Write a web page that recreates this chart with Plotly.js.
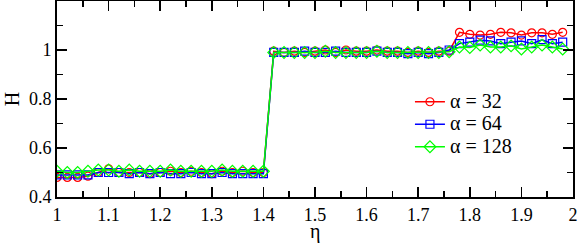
<!DOCTYPE html>
<html>
<head>
<meta charset="utf-8">
<script src="https://cdn.plot.ly/plotly-3.0.1.min.js"></script>
<style>html,body{margin:0;padding:0;background:#fff;}#chart{width:581px;height:245px;}</style>
</head>
<body>
<div id="chart"></div>
<script>
const eta = [1.00,1.02,1.04,1.06,1.08,1.10,1.12,1.14,1.16,1.18,1.20,1.22,1.24,1.26,1.28,1.30,1.32,1.34,1.36,1.38,1.40,
             1.42,1.44,1.46,1.48,1.50,1.52,1.54,1.56,1.58,1.60,1.62,1.64,1.66,1.68,1.70,1.72,1.74,1.76,
             1.78,1.80,1.82,1.84,1.86,1.88,1.90,1.92,1.94,1.96,1.98];
const H32 = [0.48,0.48,0.48,0.485,0.50,0.515,0.50,0.50,0.50,0.495,0.50,0.505,0.50,0.505,0.50,0.495,0.505,0.50,0.505,0.50,0.50,
             0.995,0.99,0.995,0.99,0.995,1.0,0.99,1.0,0.995,0.995,1.0,0.995,0.995,0.99,0.995,0.99,0.995,0.995,
             1.072,1.064,1.061,1.064,1.072,1.07,1.061,1.07,1.07,1.064,1.072];
const H64 = [0.49,0.49,0.49,0.49,0.50,0.50,0.50,0.495,0.50,0.495,0.50,0.495,0.495,0.50,0.495,0.495,0.50,0.495,0.495,0.495,0.495,
             0.99,0.99,0.99,0.995,0.99,0.99,0.995,0.99,0.99,0.99,0.995,0.99,0.99,0.985,0.99,0.985,0.99,1.0,
             1.026,1.032,1.04,1.037,1.026,1.032,1.037,1.026,1.042,1.026,1.032];
const H128 = [0.505,0.50,0.50,0.505,0.51,0.51,0.505,0.51,0.505,0.505,0.505,0.51,0.505,0.505,0.505,0.505,0.51,0.505,0.505,0.505,0.505,
              0.99,0.99,0.99,0.99,0.99,0.995,0.99,0.99,0.99,0.99,0.995,0.99,0.99,0.99,0.99,0.99,0.99,0.993,
              1.012,1.01,1.02,1.012,1.012,1.017,1.004,1.012,1.02,1.012,1.004];
const names = ['α = 32','α = 64','α = 128'];
const colors = ['#ff0000','#0000ff','#00ff00'];
const symbols = ['circle-open','square-open','diamond-open'];
const series = [H32, H64, H128];
const xTicks = [1,1.1,1.2,1.3,1.4,1.5,1.6,1.7,1.8,1.9,2];
const yTicks = [0.4,0.6,0.8,1];

const fam = 'Liberation Serif';
const traces = series.map((s,i)=>({
  x: eta, y: s, name: '<span style="font-size:20px">' + names[i] + '</span>', type:'scatter', mode:'lines+markers',
  line:{color:colors[i], width:1.5},
  marker:{symbol:symbols[i], size: i===2?9:8, color:colors[i], line:{width:1.2, color:colors[i]}}
}));

const tf = {family:fam, size:18, color:'#000'};
const layout = {
  width:581, height:245,
  margin:{l:57, r:8, t:1, b:48},
  paper_bgcolor:'#fff', plot_bgcolor:'#fff',
  font: tf,
  showlegend:true,
  legend:{x:0.684, y:0.37, xanchor:'left', yanchor:'middle', bgcolor:'rgba(0,0,0,0)',
          font:{family:fam, size:15, color:'#000'}, tracegroupgap:0, itemwidth:30},
  xaxis:{range:[1,2], tickvals:xTicks, ticktext:xTicks.map(String), tickfont:tf, ticks:'inside', ticklen:10, tickwidth:1.5,
         tickcolor:'#000', showline:true, linecolor:'#000', linewidth:2, mirror:'ticks', showgrid:false, zeroline:false,
         minor:{dtick:0.05, tick0:1, ticks:'inside', ticklen:6, tickwidth:1.5, tickcolor:'#000', showgrid:false}},
  yaxis:{range:[0.4,1.2], tickvals:yTicks, ticktext:['0.4','0.6','0.8','1'], tickfont:tf, ticks:'inside', ticklen:10, tickwidth:1.5,
         tickcolor:'#000', showline:true, linecolor:'#000', linewidth:2, mirror:'ticks', showgrid:false, zeroline:false,
         minor:{dtick:0.1, tick0:0.4, ticks:'inside', ticklen:6, tickwidth:1.5, tickcolor:'#000', showgrid:false},
         title:{text:'H', font:{family:fam, size:20}, standoff:4}},
  annotations:[{text:'η', xref:'paper', yref:'paper', x:0.5, y:-0.244, xanchor:'center', yanchor:'bottom', showarrow:false,
                font:{family:fam, size:20, color:'#000'}}]
};
Plotly.newPlot('chart', traces, layout, {staticPlot:true, displayModeBar:false});
</script>
</body>
</html>
